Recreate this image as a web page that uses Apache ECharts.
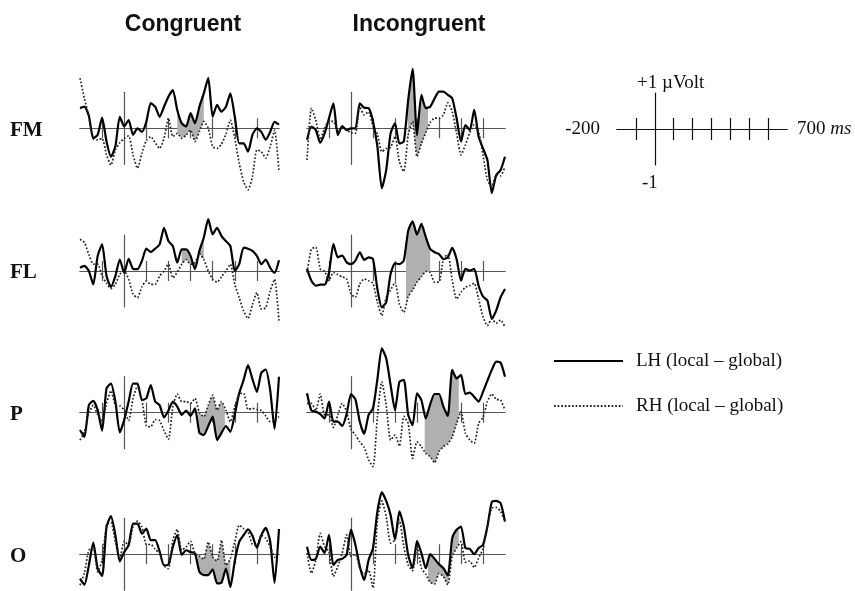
<!DOCTYPE html>
<html><head><meta charset="utf-8">
<script src="https://cdn.jsdelivr.net/npm/echarts@6/dist/echarts.min.js"></script>
<style>html,body{margin:0;padding:0;background:#fff}#c{width:855px;height:591px}</style>
</head><body><div id="c"></div>
<script>
// ---------- data ----------
const columns = ['Congruent', 'Incongruent'];
const rows = ['FM', 'FL', 'P', 'O'];
const seriesNames = ['LH (local – global)', 'RH (local – global)'];
const timeStart = -200, timeEnd = 700, timeStep = 20;
const tickTimes = [-100, 100, 200, 300, 400, 500, 600];
const keyLabels = ['-200', '700', 'ms', '+1 µVolt', '-1'];

const FM_C_LH = [0.56,0.6,0.35,-0.28,-0.18,0.3,-0.37,-0.79,-0.5,0.32,0.05,0.23,-0.18,0,-0.1,0.18,0.7,0.6,0.32,0.6,0.88,1.06,0.5,0.14,0.05,0.42,0.14,0.6,0.97,1.4,0.32,0.65,0.46,0.6,0.97,0.32,-0.42,-0.42,-0.65,-0.18,0,-0.1,-0.32,-0.1,0.18,0.1];
const FM_C_RH = [1.39,0.83,0.32,-0.28,-0.32,-0.28,-0.74,-1.02,-0.6,-0.4,-0.28,-0.21,-0.74,-1.11,-0.69,-0.34,-0.23,-0.4,-0.56,-0.28,0.28,-0.23,-0.14,-0.28,-0.19,-0.05,-0.37,-0.09,0.19,0,-0.51,-0.56,-0.44,-0.16,0.23,-0.28,-0.97,-1.48,-1.71,-1.34,-0.6,-0.65,-0.83,-0.51,-0.05,-1.2];
const FM_I_LH = [-0.32,0.05,-0.05,-0.4,-0.14,0.28,0.69,-0.19,0.06,-0.05,0,0,0.69,0.57,0.56,0.19,-0.51,-1.67,-1.16,-0.14,0.14,-0.42,-0.37,0.79,1.65,-0.19,0.93,0.56,0.6,0.83,1.02,1.02,0.93,0.83,0.28,-0.37,0.09,-0.05,0.51,-0.23,-0.56,-0.88,-1.8,-1.3,-1.16,-0.79];
const FM_I_RH = [-0.88,0.56,0.23,-0.32,0,0.19,0.19,-0.09,0,-0.05,-0.12,-0.14,0.6,0.37,0.46,0.05,-0.16,-0.65,-0.56,-0.53,-0.23,-0.93,-1.2,-0.19,0.19,-0.79,-0.42,-0.12,0.16,0.28,0.28,0.37,0.71,0.46,-0.14,-0.74,-0.46,-0.12,0.09,-0.09,-0.74,-1.44,-1.62,-1.3,-1.32,-1.06];
const FL_C_LH = [0.09,0.14,0,-0.37,0.42,0.74,-0.14,-0.44,-0.14,0.32,-0.05,0.34,0.06,0.05,0.28,0.62,0.53,0.62,0.74,1.2,0.83,0.69,0.23,0.6,0.6,0.42,0.05,0.56,0.93,1.44,1.02,1.2,0.97,0.83,0.69,0,0.19,0.65,0.62,0.56,0.42,0.19,0.32,0.09,-0.05,0.3];
const FL_C_RH = [0.88,0.79,0.46,0.19,0.19,-0.14,-0.34,-0.49,-0.37,-0.09,0,-0.23,-0.65,-0.74,-0.44,-0.28,-0.37,-0.37,-0.14,0,0.19,-0.19,-0.03,0.19,0.32,0.19,0.23,0.48,0.32,0,-0.23,-0.31,-0.16,0,0.19,-0.37,-0.74,-1.11,-1.32,-0.93,-0.6,-1.06,-1.02,-0.56,-0.23,-1.4];
const FL_I_LH = [0.06,-0.27,-0.41,-0.38,-0.38,-0.04,0.75,0.38,0.43,0.24,0.19,0.29,0.52,0.31,0.38,0.33,-0.5,-1.01,-0.87,-0.08,0.21,0.19,0.29,1.12,1.38,1.01,1.31,0.94,0.61,0.52,0.47,0.33,0.38,0.64,0.33,-0.27,0.06,0.01,0.06,-0.41,-0.71,-0.82,-1.33,-1.1,-0.73,-0.5];
const FL_I_RH = [-0.04,0.61,0.66,0.06,-0.01,-0.27,-0.04,-0.1,-0.16,-0.22,-0.64,-0.73,-0.36,-0.22,-0.27,-0.34,-0.87,-1.24,-0.73,-0.53,-0.31,-0.92,-1.15,-0.71,-0.53,-0.31,-0.16,-0.01,-0.04,-0.31,-0.31,0.33,0.47,-0.25,-0.78,-0.59,-0.45,-0.41,-0.34,-0.78,-1.27,-1.52,-1.33,-1.45,-1.36,-1.56];
const P_C_LH = [-0.48,-0.67,0.21,0.33,0.07,-0.5,0.68,0.81,0.31,-0.55,-0.2,0.31,0.81,0.81,0.35,0.4,0.77,0.31,0.21,-0.13,0.06,0.31,0.17,-0.06,0.06,-0.09,0.12,-0.56,-0.62,-0.37,-0.11,-0.76,-0.56,-0.37,-0.53,-0.04,0.54,0.91,1.32,0.93,0.58,1.11,1.2,0.63,-0.45,1.0];
const P_C_RH = [-0.76,-0.53,-0.02,0.21,-0.06,-0.25,0.26,0.61,0.21,0.19,0.07,-0.22,0.4,0.74,0.35,-0.37,-0.39,-0.19,-0.22,-0.5,-0.74,0.17,0.52,0.31,0.31,0.26,0.4,0,-0.11,0.21,0.49,0.07,0.31,0.07,-0.25,0.17,0.52,0.54,0.09,0.12,0.09,0.06,-0.09,-0.25,-0.22,-0.11];
const P_I_LH = [0.54,0.06,0.03,-0.04,-0.16,0.31,-0.25,-0.25,-0.37,-0.04,0.52,0.37,-0.25,-0.59,-0.06,0.12,0.93,1.79,1.51,0.77,0.07,0.86,0.91,-0.06,-0.35,0.54,0.35,-0.16,0.24,0.52,0.52,0.17,-0.09,1.19,0.95,1.05,0.52,0.56,0.44,0.31,0.58,0.89,1.19,1.42,1.39,1.0];
const P_I_RH = [0.26,0.26,0.06,0.52,-0.06,-0.06,-0.41,-0.06,0.26,0.03,-0.46,-0.62,-0.81,-0.96,-1.31,-1.5,-0.11,0.86,0.21,-0.76,-0.62,-0.93,-0.1,-0.3,-1.27,-0.81,-0.94,-1.13,-1.22,-1.39,-1.08,-0.94,-0.87,-0.67,-0.3,0.03,-0.57,-0.76,-0.85,-0.3,-0.13,0.31,0.52,0.37,0.35,0.07];
const O_C_LH = [-0.68,-0.85,-0.31,0.32,-0.4,-0.6,0.76,1.06,0.53,-0.2,0.06,0.25,0.85,0.85,0.57,0.71,0.39,0.39,0.08,-0.31,-0.29,0.2,0.53,-0.02,0.11,0.06,0.02,-0.49,-0.58,-0.58,-0.42,-0.81,-0.79,-0.4,-0.91,-0.19,0.34,0.53,0.69,0.51,0.18,0.53,0.73,0.36,-0.8,0.7];
const O_C_RH = [-0.86,-0.51,0.11,0.18,-0.49,-0.17,0.81,0.88,0.34,-0.12,0.36,0.25,0.76,0.92,0.76,0.27,0.27,0.14,0.02,-0.32,-0.4,0.39,0.69,0.11,0.2,0.36,0.02,-0.05,-0.14,0.34,-0.07,-0.19,0.39,-0.31,-0.12,0.34,0.81,0.71,0.62,0.27,0.25,0.53,0.44,0.2,-0.07,-0.21];
const O_I_LH = [0.21,-0.16,-0.13,0.21,0.03,0.54,-0.3,-0.16,-0.13,-0.02,0.68,0.26,-0.34,-0.72,-0.16,0.17,1.19,1.72,1.48,1.09,0.4,1.19,0.77,-0.02,-0.39,0.37,0.03,-0.39,0,-0.13,-0.28,-0.39,-0.59,0.44,0.68,0.77,0.17,0.15,0,0.17,0.26,0.77,1.45,1.48,1.42,0.91];
const O_I_RH = [0.03,-0.53,-0.16,0.58,0.21,0.07,-0.62,-0.34,0.03,0.54,-0.06,0,-0.39,-0.56,-0.44,-0.94,0.91,1.48,1.05,0.31,0.4,0.95,0.21,-0.3,-0.46,0.21,-0.39,-0.56,-0.78,-0.83,-0.53,-0.62,-0.85,-0.06,0.17,0.35,-0.22,-0.19,-0.37,-0.11,0.15,0.77,1.28,1.3,1.19,0.89];

// shaded time windows (ms) per panel
const FILL_FM_C = [240, 360], FILL_FM_I = [258, 350];
const FILL_FL_C = [260, 360], FILL_FL_I = [250, 360];
const FILL_P_C = [335, 455], FILL_P_I = [335, 490];
const FILL_O_C = [330, 480], FILL_O_I = [350, 490];

const PANEL_DATA = {
  FM_C: [FM_C_LH, FM_C_RH, FILL_FM_C], FM_I: [FM_I_LH, FM_I_RH, FILL_FM_I],
  FL_C: [FL_C_LH, FL_C_RH, FILL_FL_C], FL_I: [FL_I_LH, FL_I_RH, FILL_FL_I],
  P_C: [P_C_LH, P_C_RH, FILL_P_C], P_I: [P_I_LH, P_I_RH, FILL_P_I],
  O_C: [O_C_LH, O_C_RH, FILL_O_C], O_I: [O_I_LH, O_I_RH, FILL_O_I]
};

// ---------- layout / style ----------
const colLeft = [80, 307], colWidth = [199, 198];
const rowBase = [128.3, 271, 412.7, 554.2];
const halfH = 36;
const axisColor = '#555', keyColor = '#111', fillColor = '#b0b0b0';
const serif = '"Liberation Serif", "Times New Roman", serif';
const sans = '"Liberation Sans", Arial, sans-serif';

const times = [];
for (let t = timeStart; t <= timeEnd; t += timeStep) times.push(t);
const pairs = vals => vals.map((v, i) => [times[i], v]);
function valueAt(vals, t) {
  const f = (t - timeStart) / timeStep;
  const i = Math.max(0, Math.min(vals.length - 2, Math.floor(f)));
  const r = f - i;
  return vals[i] * (1 - r) + vals[i + 1] * r;
}

const option = { animation: false, grid: [], xAxis: [], yAxis: [], series: [], graphic: [] };

function addAxes(gi, color, tickLen) {
  const yIdx = option.yAxis.length;
  option.yAxis.push({
    gridIndex: gi, type: 'value', min: -1, max: 1,
    axisLine: { show: true, onZero: true, lineStyle: { color: color, width: 1.2 } },
    axisTick: { show: false }, axisLabel: { show: false }, splitLine: { show: false }
  });
  const xIdx = option.xAxis.length;
  ['bottom', 'top'].forEach(pos => {
    option.xAxis.push({
      gridIndex: gi, type: 'value', position: pos, min: timeStart, max: timeEnd,
      axisLine: { show: true, onZero: true, onZeroAxisIndex: yIdx, lineStyle: { color: color, width: 1.2 } },
      axisTick: { show: true, customValues: tickTimes, length: tickLen, lineStyle: { color: color, width: 1.2 } },
      axisLabel: { show: false }, splitLine: { show: false }
    });
  });
  return { xIdx, yIdx };
}

let gi = 0;
rows.forEach((r, ri) => {
  columns.forEach((c, ci) => {
    const key = r + '_' + c[0];
    const [lh, rh, win] = PANEL_DATA[key];
    option.grid.push({ left: colLeft[ci], width: colWidth[ci], top: rowBase[ri] - halfH, height: 2 * halfH });
    const { xIdx, yIdx } = addAxes(gi, axisColor, 10);
    option.series.push({
      type: 'custom', xAxisIndex: xIdx, yAxisIndex: yIdx, clip: false, silent: true, z: 1,
      data: [[win[0], 0]],
      renderItem: (params, api) => {
        const ts = [win[0]];
        times.forEach(t => { if (t > win[0] && t < win[1]) ts.push(t); });
        ts.push(win[1]);
        const pts = ts.map(t => api.coord([t, valueAt(lh, t)]))
          .concat(ts.slice().reverse().map(t => api.coord([t, valueAt(rh, t)])));
        return { type: 'polygon', shape: { points: pts }, style: { fill: fillColor } };
      }
    });
    option.series.push({
      type: 'line', name: seriesNames[0], xAxisIndex: xIdx, yAxisIndex: yIdx, data: pairs(lh),
      symbol: 'none', showSymbol: false, smooth: 0.2, clip: false, silent: true, z: 3,
      itemStyle: { color: '#000' },
      lineStyle: { color: '#000', width: 2.2 }
    });
    option.series.push({
      type: 'line', name: seriesNames[1], xAxisIndex: xIdx, yAxisIndex: yIdx, data: pairs(rh),
      symbol: 'none', showSymbol: false, smooth: 0.2, clip: false, silent: true, z: 3,
      itemStyle: { color: '#222' },
      lineStyle: { color: '#222', width: 1.7, type: [1.7, 1.9] }
    });
    gi++;
  });
});

// scale key
option.grid.push({ left: 617, width: 170, top: 93, height: 72 });
addAxes(gi, keyColor, 11);

// texts
const txt = (x, y, text, font, align, extra) => option.graphic.push(Object.assign({
  type: 'text', x: x, y: y, silent: true,
  style: Object.assign({ text: text, font: font, fill: '#111', align: align, textAlign: align, verticalAlign: 'middle', textVerticalAlign: 'middle' }, extra || {})
}));
txt(183, 25, columns[0], 'bold 23px ' + sans, 'center');
txt(419, 25, columns[1], 'bold 23px ' + sans, 'center');
rows.forEach((r, ri) => txt(10, rowBase[ri] + 2, r, 'bold 21px ' + serif, 'left'));
txt(600, 129, keyLabels[0], '19px ' + serif, 'right');
option.graphic.push({
  type: 'text', x: 797, y: 129, silent: true,
  style: { text: keyLabels[1] + ' {i|' + keyLabels[2] + '}', font: '19px ' + serif, fill: '#111', align: 'left', verticalAlign: 'middle',
    rich: { i: { fontStyle: 'italic', fontFamily: serif, fontSize: 19 } } }
});
txt(637, 83, keyLabels[3], '19px ' + serif, 'left');
txt(642, 183, keyLabels[4], '19px ' + serif, 'left');

option.legend = {
  data: seriesNames, orient: 'vertical', left: 548, top: 345, itemWidth: 69, itemHeight: 12, itemGap: 23,
  selectedMode: false,
  itemStyle: { opacity: 0 },
  textStyle: { fontFamily: serif, fontSize: 19, color: '#111', lineHeight: 22, padding: [0, 0, 0, 8] }
};

const chart = echarts.init(document.getElementById('c'), null, { renderer: 'canvas' });
chart.setOption(option);
</script>
</body></html>
